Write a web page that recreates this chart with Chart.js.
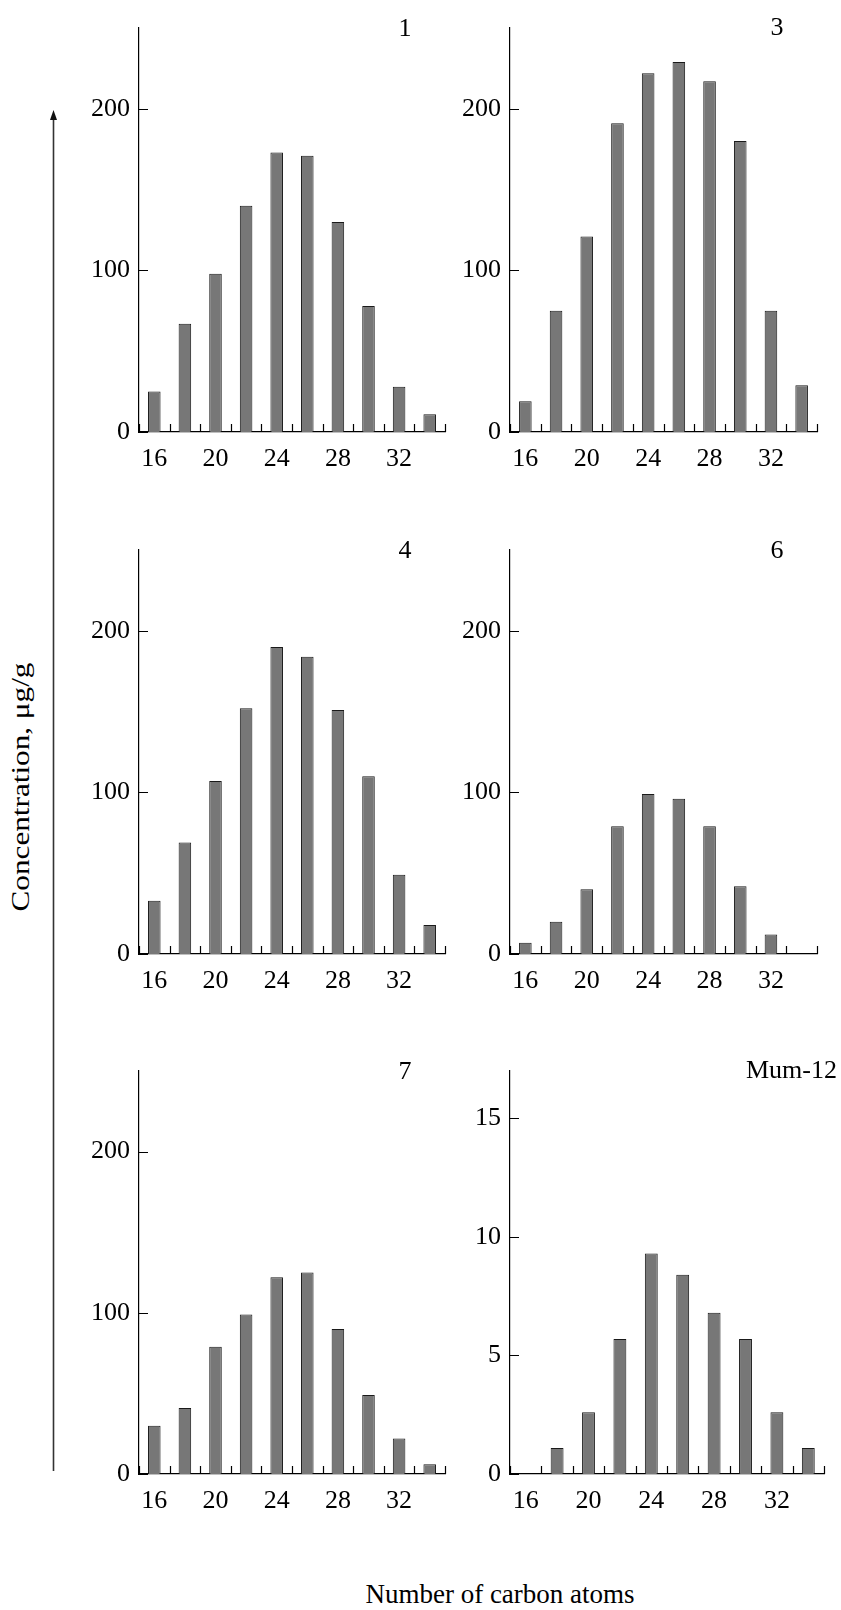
<!DOCTYPE html>
<html>
<head>
<meta charset="utf-8">
<script src="https://cdn.jsdelivr.net/npm/chart.js@4.4.0/dist/chart.umd.min.js"></script>
<style>
  body { margin: 0; background: #fff; }
  #page { position: relative; width: 841px; height: 1610px; overflow: hidden; font-family: "Liberation Serif", serif; color: #000; }
  #page canvas { position: absolute; }
  .tag { position: absolute; font-size: 26px; line-height: 1; white-space: nowrap; }
</style>
</head>
<body>
<div id="page">
  <svg style="position:absolute;left:45px;top:104px" width="17" height="1370">
    <line x1="8.5" y1="12" x2="8.5" y2="1367" stroke="#333" stroke-width="1.6"/>
    <polygon points="8.5,6 5,16 12,16" fill="#111"/>
  </svg>
  <div class="tag" style="left:21px;top:787px;transform:translate(-50%,-50%) rotate(-90deg) scaleX(1.2)">Concentration, μg/g</div>
  <div class="tag" style="left:500px;top:1581px;font-size:27px;transform:translateX(-50%)">Number of carbon atoms</div>
</div>
<script>
const carbonAtoms = [16, 18, 20, 22, 24, 26, 28, 30, 32, 34];
const xTickLabels = ["16", "20", "24", "28", "32"];

const sample1 = [25, 67, 98, 140, 173, 171, 130, 78, 28, 11];
const sample3 = [19, 75, 121, 191, 222, 229, 217, 180, 75, 29];
const sample4 = [33, 69, 107, 152, 190, 184, 151, 110, 49, 18];
const sample6 = [7, 20, 40, 79, 99, 96, 79, 42, 12, 0];
const sample7 = [30, 41, 79, 99, 122, 125, 90, 49, 22, 6];
const sampleMum12 = [0, 1.1, 2.6, 5.7, 9.3, 8.4, 6.8, 5.7, 2.6, 1.1];

// where each small plot goes on the page (axis corners)
const panels = [
  { name: "1", values: sample1, max: 250, step: 100, left: 139, right: 445, top: 28, bottom: 432, tagX: 405, tagY: 28 },
  { name: "3", values: sample3, max: 250, step: 100, left: 510, right: 817, top: 28, bottom: 432, tagX: 777, tagY: 27 },
  { name: "4", values: sample4, max: 250, step: 100, left: 139, right: 445, top: 550, bottom: 954, tagX: 405, tagY: 550 },
  { name: "6", values: sample6, max: 250, step: 100, left: 510, right: 817, top: 550, bottom: 954, tagX: 777, tagY: 550 },
  { name: "7", values: sample7, max: 250, step: 100, left: 139, right: 445, top: 1071, bottom: 1474, tagX: 405, tagY: 1071 },
  { name: "Mum-12", values: sampleMum12, max: 17, step: 5, left: 510, right: 824, top: 1071, bottom: 1474, tagX: 837, tagY: 1070, alignRight: true },
];

Chart.defaults.font.family = "'Liberation Serif', serif";
Chart.defaults.font.size = 26;
Chart.defaults.color = "#000";

// small tick marks pointing into the plot, like the printed figure
const inwardTicks = {
  id: "inwardTicks",
  afterDraw(chart) {
    const ctx = chart.ctx;
    const xs = chart.scales.x;
    const ys = chart.scales.y;
    const area = chart.chartArea;
    const half = (xs.getPixelForValue(1) - xs.getPixelForValue(0)) / 2;
    ctx.save();
    ctx.strokeStyle = "#000";
    ctx.lineWidth = 1.2;
    ctx.beginPath();
    for (let i = 0; i <= carbonAtoms.length; i++) {
      const px = Math.round(xs.getPixelForValue(i) - half) + 0.5;
      ctx.moveTo(px, area.bottom);
      ctx.lineTo(px, area.bottom - 8);
    }
    ys.ticks.forEach(function (t) {
      const py = Math.round(ys.getPixelForValue(t.value)) + 0.5;
      ctx.moveTo(area.left, py);
      ctx.lineTo(area.left + 9, py);
    });
    ctx.stroke();
    ctx.restore();
  },
};

const page = document.getElementById("page");

panels.forEach(function (p) {
  const cl = p.left - 60;
  const ct = p.top - 20;
  const canvas = document.createElement("canvas");
  canvas.width = p.right - cl + 14;
  canvas.height = p.bottom - ct + 45;
  canvas.style.left = cl + "px";
  canvas.style.top = ct + "px";
  page.appendChild(canvas);

  const tag = document.createElement("div");
  tag.className = "tag";
  tag.textContent = p.name;
  tag.style.left = p.tagX + "px";
  tag.style.top = p.tagY + "px";
  tag.style.transform = p.alignRight ? "translate(-100%,-50%)" : "translate(-50%,-50%)";
  page.appendChild(tag);

  new Chart(canvas, {
    type: "bar",
    data: {
      labels: carbonAtoms.map(String),
      datasets: [
        {
          data: p.values,
          backgroundColor: "#777777",
          borderColor: "#1a1a1a",
          borderWidth: 1,
          barPercentage: 0.41,
          categoryPercentage: 1,
        },
      ],
    },
    options: {
      responsive: false,
      animation: false,
      layout: { padding: { top: 20, right: 14, left: 0, bottom: 0 } },
      plugins: { legend: { display: false }, tooltip: { enabled: false } },
      scales: {
        x: {
          grid: { display: false, drawTicks: false, tickLength: 0 },
          border: { color: "#000", width: 1.2 },
          ticks: {
            autoSkip: false,
            maxRotation: 0,
            padding: 12,
            callback: function (value, index) {
              const lab = String(carbonAtoms[index]);
              return xTickLabels.includes(lab) ? lab : "";
            },
          },
          afterFit: function (scale) {
            scale.height = 45;
            scale.paddingLeft = 0;
            scale.paddingRight = 0;
          },
        },
        y: {
          min: 0,
          max: p.max,
          grid: { display: false, drawTicks: false, tickLength: 0 },
          border: { color: "#000", width: 1.2 },
          ticks: { stepSize: p.step, includeBounds: false, padding: 9 },
          afterFit: function (scale) {
            scale.width = 60;
            scale.paddingTop = 0;
            scale.paddingBottom = 0;
          },
        },
      },
    },
    plugins: [inwardTicks],
  });
});
</script>
</body>
</html>
